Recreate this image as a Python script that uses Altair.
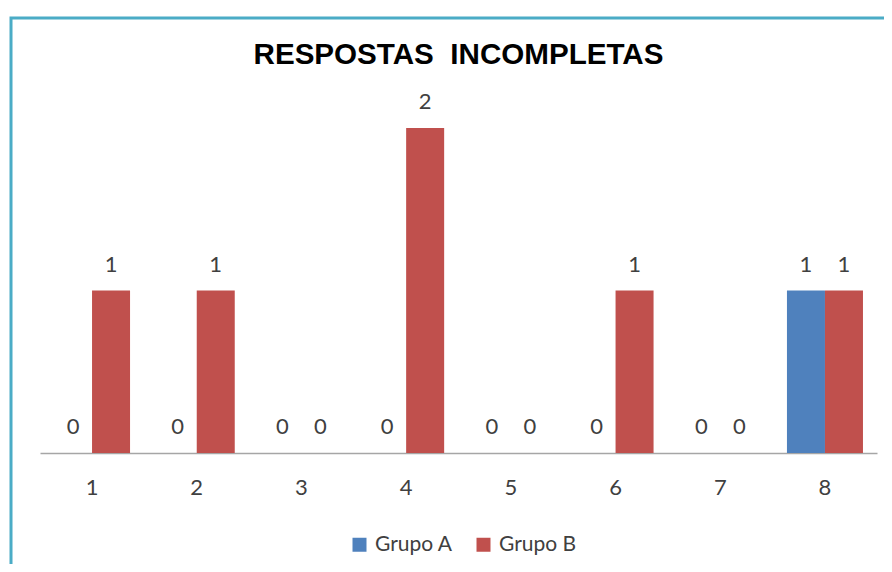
import altair as alt
import pandas as pd

questions = ["1", "2", "3", "4", "5", "6", "7", "8"]
grupo_a = [0, 0, 0, 0, 0, 0, 0, 1]
grupo_b = [1, 1, 0, 2, 0, 1, 0, 1]
groups = ["Grupo A", "Grupo B"]
colors = ["#4F81BD", "#C0504D"]

rows = []
for q, a, b in zip(questions, grupo_a, grupo_b):
    rows.append({"q": q, "g": groups[0], "v": a})
    rows.append({"q": q, "g": groups[1], "v": b})
df = pd.DataFrame(rows)

x = alt.X(
    "q:N",
    sort=questions,
    scale=alt.Scale(paddingInner=0.274, paddingOuter=0.134),
    axis=alt.Axis(
        title=None,
        labelAngle=0,
        labelFont="Lato",
        labelFontSize=22,
        labelColor="#404040",
        labelPadding=24,
        ticks=False,
        grid=False,
        domainColor="#A6A6A6",
        domainWidth=1.5,
    ),
)
xo = alt.XOffset("g:N", sort=groups, scale=alt.Scale(paddingInner=0, paddingOuter=0))
y = alt.Y("v:Q", scale=alt.Scale(domain=[0, 2], nice=False), axis=None)

base = alt.Chart(df)

bars = base.mark_bar().encode(
    x=x,
    xOffset=xo,
    y=y,
    color=alt.Color(
        "g:N",
        sort=groups,
        scale=alt.Scale(domain=groups, range=colors),
        legend=alt.Legend(
            orient="none",
            legendX=309,
            legendY=406,
            direction="horizontal",
            title=None,
            symbolType="square",
            symbolSize=196,
            symbolStrokeWidth=0,
            labelFont="Lato",
            labelFontSize=21,
            labelColor="#404040",
            labelOffset=5,
            columnPadding=20,
        ),
    ),
)

labels = base.mark_text(
    baseline="bottom", dy=-14, font="Lato", fontSize=22, color="#404040"
).encode(x=x, xOffset=xo, y=y, text="v:Q")

frame = alt.Chart(pd.DataFrame({"f": [0]})).mark_rect(
    fill="transparent", stroke="#4BACC6", strokeWidth=3
).encode(
    x=alt.value(-29), x2=alt.value(900), y=alt.value(-110), y2=alt.value(500)
)

chart = (
    alt.layer(frame, bars, labels)
    .properties(
        width=837,
        height=325,
        background="white",
        padding={"left": 32, "top": 120, "right": 7, "bottom": 111},
        autosize=alt.AutoSizeParams(type="none"),
        title=alt.Title(
            "RESPOSTAS\u00a0 INCOMPLETAS",
            font="Liberation Sans",
            fontSize=29.6,
            fontWeight="bold",
            color="black",
            anchor="middle",
            frame="group",
            offset=-54,
        ),
    )
    .configure_view(strokeWidth=0)
)

chart.save("out.html", embed_options={"renderer": "svg", "actions": False})
